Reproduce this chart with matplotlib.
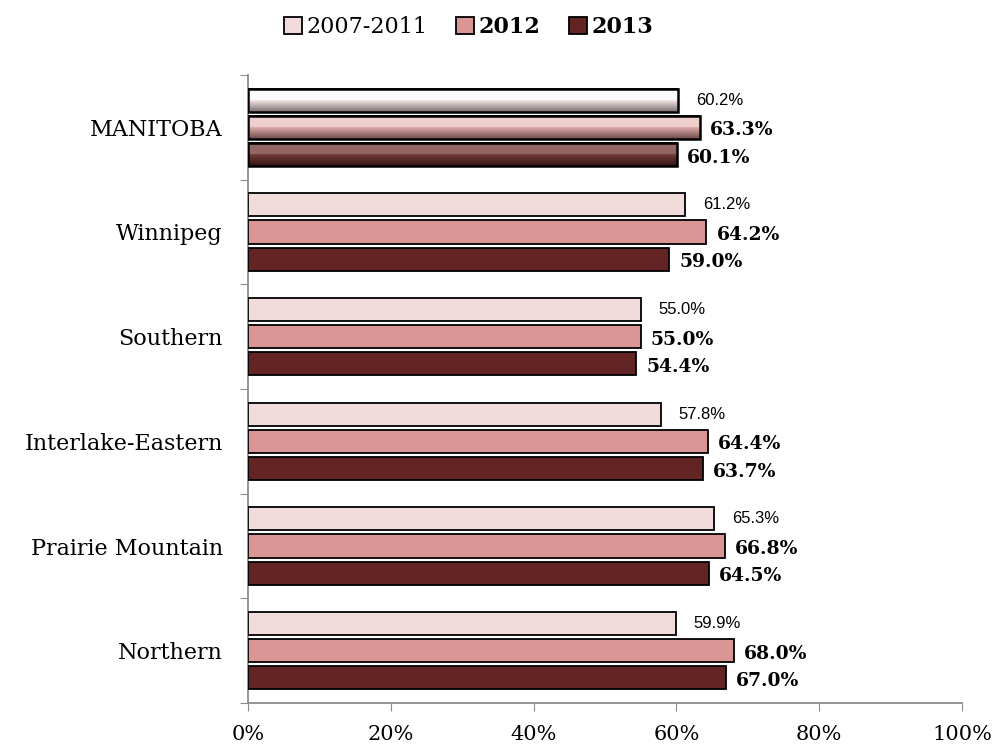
import matplotlib.pyplot as plt
import matplotlib.colors as mcolors
import numpy as np

regions = ["MANITOBA", "Winnipeg", "Southern", "Interlake-Eastern",
           "Prairie Mountain", "Northern"]
series = ["2007-2011", "2012", "2013"]
v_0711 = [60.2, 61.2, 55.0, 57.8, 65.3, 59.9]
v_2012 = [63.3, 64.2, 55.0, 64.4, 66.8, 68.0]
v_2013 = [60.1, 59.0, 54.4, 63.7, 64.5, 67.0]

colors = ["#F2DCDB", "#D99694", "#632523"]
serif = ["DejaVu Serif"]

fig = plt.figure(figsize=(9.93, 7.44), dpi=100)
ax = fig.add_axes([0.2497, 0.0551, 0.7191, 0.8441])

n = len(regions)
centers = n - 0.5 - np.arange(n)
offsets = [0.26, 0.0, -0.26]
h = 0.22

bars = []
for vals, off, c, name in zip([v_0711, v_2012, v_2013], offsets, colors, series):
    b = ax.barh(centers + off, vals, height=h, color=c, edgecolor="black",
                linewidth=1.3, label=name, zorder=3)
    bars.append(b)

# bevelled look on the province totals: light upper half, shaded lower half
hl_mix = [0.9, 0.55, 0.3]
for b, c, k in zip(bars, colors, hl_mix):
    p = b.patches[0]
    rgb = np.array(mcolors.to_rgb(c))
    hi = rgb + (1 - rgb) * k
    mid = rgb + (1 - rgb) * (k * 0.4)
    lo = rgb * 0.5
    t = np.linspace(0, 1, 80)
    grad = np.empty((len(t), 1, 3))
    for j, tt in enumerate(t):
        if tt < 0.1:
            w = tt / 0.1
            grad[j, 0] = mid * (1 - w) + hi * w
        elif tt < 0.5:
            grad[j, 0] = hi
        else:
            w = (tt - 0.5) / 0.5
            grad[j, 0] = mid * (1 - w) + lo * w
    x0, y0 = p.get_x(), p.get_y()
    im = ax.imshow(grad, extent=[x0, x0 + p.get_width(), y0, y0 + p.get_height()],
                   aspect="auto", origin="upper", zorder=3.5)
    im.set_clip_path(p)
    edge = plt.Rectangle((x0, y0), p.get_width(), p.get_height(), fill=False,
                         edgecolor="black", linewidth=1.8, zorder=4)
    ax.add_patch(edge)

for i in range(n):
    ax.text(v_0711[i] + 2.5, centers[i] + offsets[0], f"{v_0711[i]:.1f}%",
            va="center", ha="left", fontsize=12, family=["Liberation Sans"])
    ax.text(v_2012[i] + 1.4, centers[i] + offsets[1] - 0.03, f"{v_2012[i]:.1f}%",
            va="center", ha="left", fontsize=13.5, fontweight="bold", family=serif)
    ax.text(v_2013[i] + 1.4, centers[i] + offsets[2] - 0.03, f"{v_2013[i]:.1f}%",
            va="center", ha="left", fontsize=13.5, fontweight="bold", family=serif)

ax.set_xlim(0, 100)
ax.set_ylim(0, n)
ax.set_xticks(np.arange(0, 101, 20))
ax.set_xticklabels([f"{x}%" for x in range(0, 101, 20)], fontsize=15, family=serif)
ax.set_yticks(np.arange(0, n + 1), minor=False)
ax.set_yticklabels([])
ax.set_yticks(centers, minor=True)
ax.set_yticklabels(regions, minor=True, fontsize=16, family=serif)
ax.tick_params(axis="y", which="minor", length=0, pad=18)
ax.tick_params(axis="y", which="major", length=6, color="#8c8c8c", direction="out")
ax.tick_params(axis="x", length=6, color="#8c8c8c", direction="out", pad=10)

for s in ["top", "right"]:
    ax.spines[s].set_visible(False)
for s in ["left", "bottom"]:
    ax.spines[s].set_color("#8c8c8c")
    ax.spines[s].set_linewidth(1.3)

leg = fig.legend(handles=bars, labels=series, loc="upper center",
                 bbox_to_anchor=(0.472, 1.005), ncol=3, frameon=False,
                 handlelength=0.8, handleheight=0.8, handletextpad=0.2,
                 columnspacing=1.3, prop={"family": serif, "size": 16})
for t in leg.get_texts()[1:]:
    t.set_fontweight("bold")

fig.savefig("out.png", dpi=100)
